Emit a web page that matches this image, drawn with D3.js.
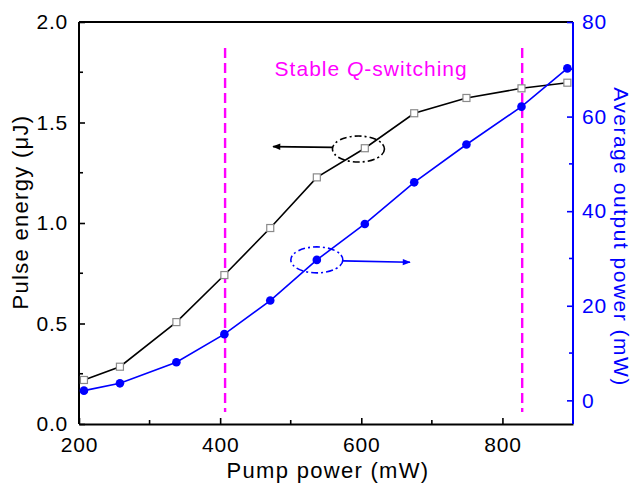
<!DOCTYPE html>
<html>
<head>
<meta charset="utf-8">
<script src="https://cdn.jsdelivr.net/npm/d3@7"></script>
<style>
  html, body { margin: 0; padding: 0; background: #fff; }
  svg { display: block; font-family: "Liberation Sans", Arial, sans-serif; }
</style>
</head>
<body>
<svg id="chart" width="636" height="485"></svg>
<script>
// Pump power (mW) at each measurement
const pumpPower = [207, 258, 338, 406, 471, 537, 605, 675, 749, 827, 892];
// Single pulse energy (µJ)
const pulseEnergy = [0.219, 0.285, 0.507, 0.741, 0.975, 1.227, 1.372, 1.546, 1.622, 1.670, 1.698];
// Average output power (mW)
const avgPower = [2.05, 3.6, 8.05, 14.0, 21.1, 29.7, 37.3, 46.1, 54.1, 62.1, 70.2];

// Boundaries of the stable Q-switching region (mW)
const stableBounds = [407, 828];

const xTicks = [200, 400, 600, 800];
const xMinor = [300, 500, 700];
const yLeftTicks = [0, 0.5, 1.0, 1.5, 2.0];
const yLeftMinor = [0.25, 0.75, 1.25, 1.75];
const yRightTicks = [0, 20, 40, 60, 80];
const yRightMinor = [10, 30, 50, 70];

const margin = { left: 79, right: 63, top: 22, bottom: 61 };
const W = 636, H = 485;
const x0 = margin.left, x1 = W - margin.right;
const y0 = H - margin.bottom, y1 = margin.top;

const x = d3.scaleLinear().domain([200, 900]).range([x0, x1]);
const yL = d3.scaleLinear().domain([0, 2.0]).range([y0, y1]);
const yR = d3.scaleLinear().domain([-5, 80]).range([y0, y1]);

const BLUE = "#0000ff", MAG = "#ff00ff";
const svg = d3.select("#chart");

// Stable region markers
svg.append("g").selectAll("line").data(stableBounds).join("line")
  .attr("x1", d => x(d)).attr("x2", d => x(d))
  .attr("y1", 48).attr("y2", 412)
  .attr("stroke", MAG).attr("stroke-width", 2.4)
  .attr("stroke-dasharray", "10,5");

svg.append("text")
  .attr("x", x(614)).attr("y", 76)
  .attr("text-anchor", "middle")
  .attr("fill", MAG).attr("font-size", 21).attr("letter-spacing", 1)
  .call(t => {
    t.append("tspan").text("Stable ");
    t.append("tspan").attr("font-style", "italic").text("Q");
    t.append("tspan").text("-switching");
  });

// Axis frame: top border
svg.append("line").attr("x1", x0).attr("x2", x1).attr("y1", y1).attr("y2", y1)
  .attr("stroke", "#000").attr("stroke-width", 2);

// Bottom axis, ticks pointing inward
const gx = svg.append("g").attr("transform", `translate(0,${y0})`)
  .call(d3.axisBottom(x).tickValues(xTicks).tickSize(-6).tickPadding(13).tickSizeOuter(0));
gx.append("g").selectAll("line").data(xMinor).join("line")
  .attr("x1", d => x(d)).attr("x2", d => x(d)).attr("y1", 0).attr("y2", -4)
  .attr("stroke", "#000").attr("stroke-width", 1.6);

// Left axis
const gl = svg.append("g").attr("transform", `translate(${x0},0)`)
  .call(d3.axisLeft(yL).tickValues(yLeftTicks).tickFormat(d3.format(".1f"))
    .tickSize(-6).tickPadding(11).tickSizeOuter(0));
gl.append("g").selectAll("line").data(yLeftMinor).join("line")
  .attr("y1", d => yL(d)).attr("y2", d => yL(d)).attr("x1", 0).attr("x2", 4)
  .attr("stroke", "#000").attr("stroke-width", 1.6);

// Right axis (blue)
const gr = svg.append("g").attr("transform", `translate(${x1},0)`)
  .call(d3.axisRight(yR).tickValues(yRightTicks).tickSize(-6).tickPadding(9).tickSizeOuter(0));
gr.append("g").selectAll("line").data(yRightMinor).join("line")
  .attr("y1", d => yR(d)).attr("y2", d => yR(d)).attr("x1", 0).attr("x2", -4)
  .attr("stroke", BLUE).attr("stroke-width", 1.6);

[gx, gl].forEach(g => {
  g.select(".domain").attr("stroke", "#000").attr("stroke-width", 2);
  g.selectAll(".tick line").attr("stroke", "#000").attr("stroke-width", 1.6);
  g.selectAll(".tick text").attr("fill", "#000").attr("font-size", 21)
    .attr("font-family", "Liberation Sans, Arial, sans-serif").attr("letter-spacing", 0.8);
});
gr.select(".domain").attr("stroke", BLUE).attr("stroke-width", 2);
gr.selectAll(".tick line").attr("stroke", BLUE).attr("stroke-width", 1.6);
gr.selectAll(".tick text").attr("fill", BLUE).attr("font-size", 21)
  .attr("font-family", "Liberation Sans, Arial, sans-serif").attr("letter-spacing", 0.8);
// full-length vertical domains so they meet the bottom corners
gr.select(".domain").attr("d", `M0,${y0}V${y1}`);
gl.select(".domain").attr("d", `M0,${y0}V${y1}`);

// Axis titles
svg.append("text").attr("x", (x0 + x1) / 2 + 2).attr("y", 478)
  .attr("text-anchor", "middle").attr("font-size", 22).attr("letter-spacing", 1.3)
  .attr("fill", "#000").text("Pump power (mW)");
svg.append("text").attr("transform", `translate(28,212) rotate(-90)`)
  .attr("text-anchor", "middle").attr("font-size", 22).attr("letter-spacing", 1.3)
  .attr("fill", "#000").text("Pulse energy (\u03bcJ)");
svg.append("text").attr("transform", `translate(614,237) rotate(90)`)
  .attr("text-anchor", "middle").attr("font-size", 21).attr("letter-spacing", 1.5)
  .attr("fill", BLUE).text("Average output power (mW)");

// Pulse energy series
const energyPts = pumpPower.map((p, i) => [p, pulseEnergy[i]]);
svg.append("path").datum(energyPts)
  .attr("d", d3.line().x(d => x(d[0])).y(d => yL(d[1])))
  .attr("fill", "none").attr("stroke", "#000").attr("stroke-width", 1.6);
svg.append("g").selectAll("rect").data(energyPts).join("rect")
  .attr("x", d => x(d[0]) - 3.5).attr("y", d => yL(d[1]) - 3.5)
  .attr("width", 7).attr("height", 7)
  .attr("fill", "#fff").attr("stroke", "#8a8a8a").attr("stroke-width", 1.2);

// Average output power series
const powerPts = pumpPower.map((p, i) => [p, avgPower[i]]);
svg.append("path").datum(powerPts)
  .attr("d", d3.line().x(d => x(d[0])).y(d => yR(d[1])))
  .attr("fill", "none").attr("stroke", BLUE).attr("stroke-width", 1.6);
svg.append("g").selectAll("circle").data(powerPts).join("circle")
  .attr("cx", d => x(d[0])).attr("cy", d => yR(d[1])).attr("r", 4.3)
  .attr("fill", BLUE);

// Arrow heads
const defs = svg.append("defs");
[["arrBlack", "#000"], ["arrBlue", BLUE]].forEach(([id, c]) => {
  defs.append("marker").attr("id", id).attr("viewBox", "0 0 10 10")
    .attr("refX", 9).attr("refY", 5).attr("markerWidth", 12).attr("markerHeight", 8)
    .attr("markerUnits", "userSpaceOnUse").attr("orient", "auto")
    .append("path").attr("d", "M0,1L10,5L0,9Z").attr("fill", c);
});

// Series annotations: dash-dot ellipse with arrow pointing to the matching axis
const dashDot = "7,3,2,3";
svg.append("ellipse")
  .attr("cx", x(596)).attr("cy", yL(1.368)).attr("rx", 26).attr("ry", 13)
  .attr("fill", "none").attr("stroke", "#000").attr("stroke-width", 1.6)
  .attr("stroke-dasharray", dashDot);
svg.append("line")
  .attr("x1", x(560)).attr("y1", yL(1.376)).attr("x2", x(475)).attr("y2", yL(1.38))
  .attr("stroke", "#000").attr("stroke-width", 1.6).attr("marker-end", "url(#arrBlack)");

svg.append("ellipse")
  .attr("cx", x(537)).attr("cy", yR(29.7)).attr("rx", 26).attr("ry", 13)
  .attr("fill", "none").attr("stroke", BLUE).attr("stroke-width", 1.6)
  .attr("stroke-dasharray", dashDot);
svg.append("line")
  .attr("x1", x(574)).attr("y1", yR(29.5)).attr("x2", x(669)).attr("y2", yR(29.2))
  .attr("stroke", BLUE).attr("stroke-width", 1.6).attr("marker-end", "url(#arrBlue)");
</script>
</body>
</html>
